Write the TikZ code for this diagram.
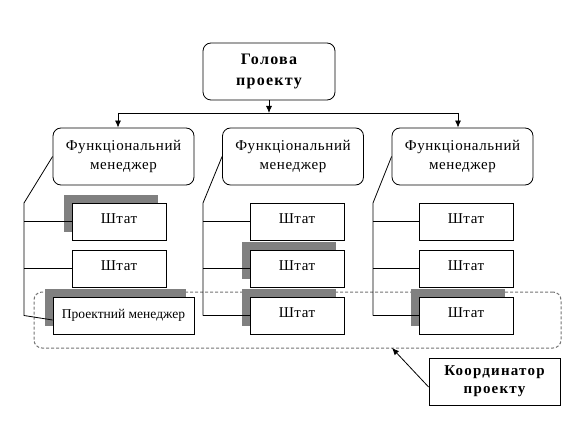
\documentclass[tikz,border=0pt]{standalone}
\usepackage{fontspec}
\setmainfont{Liberation Serif}
\newfontfamily\wide[LetterSpace=4]{Liberation Serif}
\newfontfamily\widebf[LetterSpace=8]{Liberation Serif}
\usetikzlibrary{arrows.meta,shadows}

\tikzset{
    rbox/.style={draw,fill=white,rounded corners=8pt,align=center,inner sep=0pt,
        minimum width=141pt,minimum height=57pt},
    sbox/.style={draw,fill=white,inner sep=0pt,minimum width=94pt,minimum height=37pt,
        text depth=6pt,font=\wide\fontsize{15}{19}\selectfont},
    grayshadow/.style={drop shadow={shadow xshift=-8pt,shadow yshift=8pt,fill=gray,opacity=1}},
}

\begin{document}
\begin{tikzpicture}[>={Latex[length=7pt,width=6pt]},x=1pt,y=-1pt,line width=.8pt]
        \useasboundingbox (0,0) rectangle (585,430);

        % group of the project
        \node[draw=black!55,line width=1pt,dash pattern=on 3pt off 2pt,rounded corners=8pt,
            minimum width=527pt,minimum height=56pt] (grp) at (297.5,320) {};

        \node[rbox,minimum width=132pt,font=\widebf\bfseries\fontsize{16}{21}\selectfont] (head) at (269,71.5) {Голова\\проекту};
        \foreach \i/\x in {1/123.5,2/293,3/462.5}
        {
            \node[rbox,font=\wide\fontsize{15}{19}\selectfont] (m\i) at (\x,156.5) {Функціональний\\менеджер};
        }

        % staff
        \node[sbox,grayshadow] (s11) at (119,221.5) {Штат};
        \node[sbox] (s12) at (119,268.5) {Штат};
        \node[draw,fill=white,grayshadow,inner sep=0pt,minimum width=141pt,minimum height=37pt,
            text depth=4pt,font=\fontsize{13.5}{16}\selectfont] (pm) at (123.5,315.5) {Проектний менеджер};
        \node[sbox] (s21) at (297,221.5) {Штат};
        \node[sbox,grayshadow] (s22) at (297,268.5) {Штат};
        \node[sbox,grayshadow] (s23) at (297,315.5) {Штат};
        \node[sbox] (s31) at (466,221.5) {Штат};
        \node[sbox] (s32) at (466,268.5) {Штат};
        \node[sbox,grayshadow] (s33) at (466,315.5) {Штат};

        % arrows from the head
        \coordinate (j) at (269,113);
        \coordinate (j1) at (118,113);
        \coordinate (j3) at (458,113);
        \draw[->] (head) -- (j);
        \draw (j1) -- (j3);
        \draw[->] (j1) -- (j1 |- m1.north);
        \draw[->] (j3) -- (j3 |- m3.north);

        % brackets
        \coordinate (v1) at (24,203);
        \coordinate (v2) at (203,203);
        \coordinate (v3) at (373,203);
        \draw (m1.west) -- (v1) -- (v1 |- pm.west) -- ([yshift=-4.5pt]pm.west);
        \draw (m2.west) -- (v2) -- (v2 |- s23.west);
        \draw (m3.west) -- (v3) -- (v3 |- s33.west);
        \foreach \c/\r in {1/1,1/2,2/1,2/2,2/3,3/1,3/2,3/3}
        {
            \draw (s\c\r.west) -- (s\c\r.west -| v\c);
        }

        % coordinator
        \node[draw,inner sep=0pt,minimum width=131pt,minimum height=47pt,align=center,
            font=\widebf\bfseries\fontsize{15}{18}\selectfont] (coord) at (494.5,381.5) {Координатор\\проекту};
        \coordinate (tip) at (392,348);
        \draw[->] ([yshift=-5.5pt]coord.west) -- (tip);

    \end{tikzpicture}
\end{document}
